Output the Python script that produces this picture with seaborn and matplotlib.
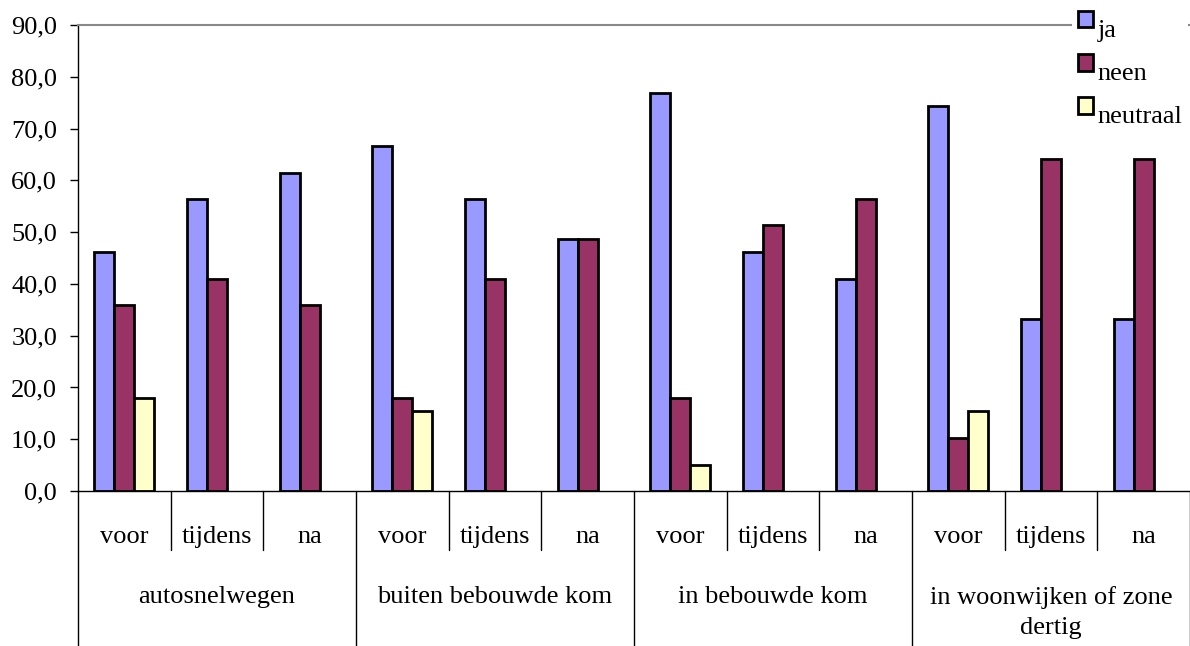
import numpy as np
import pandas as pd
import matplotlib
matplotlib.use("Agg")
import matplotlib.pyplot as plt
import seaborn as sns

groups = ["autosnelwegen", "buiten bebouwde kom", "in bebouwde kom", "in woonwijken of zone\ndertig"]
periods = ["voor", "tijdens", "na"]
series = ["ja", "neen", "neutraal"]
ja = [46.2, 56.4, 61.5, 66.7, 56.4, 48.7, 76.9, 46.2, 41.0, 74.4, 33.3, 33.3]
neen = [35.9, 41.0, 35.9, 17.9, 41.0, 48.7, 17.9, 51.3, 56.4, 10.3, 64.1, 64.1]
neutraal = [17.9, np.nan, np.nan, 15.4, np.nan, np.nan, 5.1, np.nan, np.nan, 15.4, np.nan, np.nan]
colors = ["#9999FF", "#993366", "#FFFFCC"]
yticks = [0, 10, 20, 30, 40, 50, 60, 70, 80, 90]

slots = [f"{g}|{p}" for g in groups for p in periods]
rows = []
for name, vals in zip(series, [ja, neen, neutraal]):
    for s, v in zip(slots, vals):
        rows.append({"slot": s, "serie": name, "waarde": v})
df = pd.DataFrame(rows).dropna()

sns.set_theme(style="white")
plt.rcParams["font.family"] = ["Liberation Serif", "DejaVu Serif"]
plt.rcParams["font.size"] = 19
plt.rcParams["text.color"] = "black"
plt.rcParams["ytick.labelcolor"] = "black"
plt.rcParams["ytick.color"] = "black"

fig = plt.figure(figsize=(11.9, 6.46), dpi=100)
ax = fig.add_axes([0.0655, 0.240, 0.9345, 0.721])

sns.barplot(data=df, x="slot", y="waarde", hue="serie", order=slots,
            hue_order=series, palette=colors, width=0.645, dodge=True,
            edgecolor="black", linewidth=2.0, saturation=1, ax=ax, legend=True)

ax.set_xlim(-0.5, len(slots) - 0.5)
ax.set_ylim(0, 90)
ax.set_yticks(yticks)
ax.set_yticklabels([f"{v:.1f}".replace(".", ",") for v in yticks], fontsize=19, color="black")
ax.tick_params(axis="y", direction="out", length=6, width=1, color="black", pad=9, left=True)
ax.set_xticks([])
ax.set_xlabel("")
ax.set_ylabel("")

ax.spines["right"].set_visible(False)
ax.spines["top"].set_color("#888888")
ax.spines["top"].set_linewidth(1.5)
ax.spines["left"].set_color("black")
ax.spines["bottom"].set_color("black")
ax.spines["left"].set_linewidth(1)
ax.spines["bottom"].set_linewidth(1)

tr = ax.get_xaxis_transform()
n = len(slots)
for i in range(n + 1):
    x = i - 0.5
    if i % 3 == 0:
        ax.plot([x, x], [0, -0.34], transform=tr, color="black", lw=1, clip_on=False)
    else:
        ax.plot([x, x], [0, -0.127], transform=tr, color="black", lw=1, clip_on=False)

for i, s in enumerate(slots):
    ax.text(i, -0.099, s.split("|")[1], transform=tr, ha="center", va="center",
            fontsize=19, color="black")

for gi, g in enumerate(groups):
    ax.text(gi * 3 + 1, -0.205, g, transform=tr, ha="center", va="top", fontsize=19,
            linespacing=1.45, color="black")

handles, labels = ax.get_legend_handles_labels()
ax.get_legend().remove()
leg = fig.legend(handles, labels, loc="upper left", bbox_to_anchor=(0.890, 1.012),
                 frameon=True, facecolor="white", edgecolor="none", framealpha=1,
                 handlelength=0.6, handleheight=0.6, handletextpad=0.15,
                 labelspacing=0.78, borderpad=0.2, fontsize=19)
for t in leg.get_texts():
    t.set_va("center_baseline")

fig.savefig("out.png", dpi=100, facecolor="white")
